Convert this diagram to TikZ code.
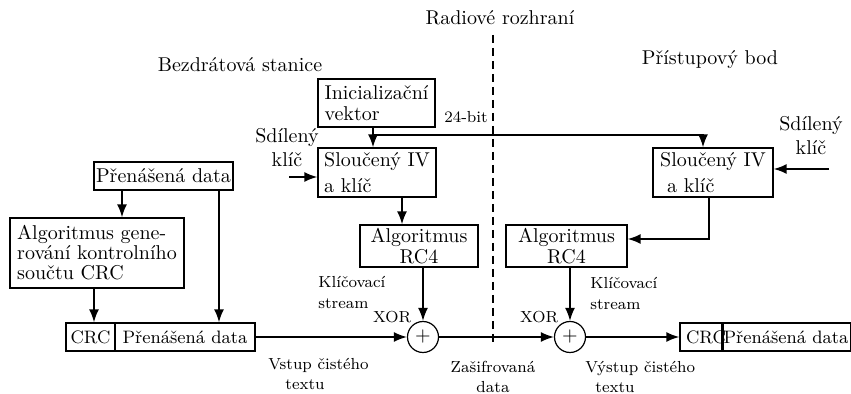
\documentclass[tikz,border=0pt]{standalone}
\usepackage{fontspec}
\usetikzlibrary{arrows.meta}
\begin{document}
\begin{tikzpicture}[x=0.5pt,y=-0.5pt,
  box/.style={draw, line width=0.7pt, inner xsep=1pt, inner ysep=0pt, align=left, anchor=center},
  xorc/.style={draw, circle, line width=0.6pt, inner sep=0pt, minimum size=15.5pt},
  arr/.style={line width=0.8pt, -{Latex[length=6.5pt,width=5pt]}},
  ln/.style={line width=0.8pt},
  lbl/.style={font=\fontsize{8}{10}\selectfont, inner sep=0pt},
  txt/.style={inner sep=0pt},
  radio/.style={line width=0.6pt, dash pattern=on 4pt off 2.5pt}]
\useasboundingbox (0,0) rectangle (851,394);

% headings
\node[txt] (radio) at (500,18) {Radiové rozhraní};
\node[txt] (bs) at (240,65) {Bezdrátová stanice};
\node[txt] (ap) at (710,60) {Přístupový bod};

% radio interface
\coordinate (rtop) at (493,35);
\coordinate (rbot) at (493,345);
\draw[radio] (rtop) -- (rbot);

% boxes
\node[box, minimum width=58.5pt, minimum height=24pt, font=\fontsize{10}{10.5}\selectfont] (IV) at (376.5,103) {Inicializační\\vektor};
\node[box, minimum width=59pt, minimum height=24.5pt, font=\fontsize{10}{13}\selectfont] (SL) at (377,172.5) {Sloučený IV\\a klíč};
\node[box, minimum width=60pt, minimum height=24.5pt, font=\fontsize{10}{13}\selectfont] (SR) at (713,172.5) {Sloučený IV\\\hspace*{3.5pt}a klíč};
\node[box, align=center, minimum width=59pt, minimum height=21pt, font=\fontsize{10}{9}\selectfont] (RL) at (419,246) {Algoritmus\\RC4};
\node[box, align=center, minimum width=60.5pt, minimum height=21pt, font=\fontsize{10}{9}\selectfont] (RR) at (566.5,246) {Algoritmus\\RC4};
\node[box, align=center, minimum width=69.5pt, minimum height=14pt] (PD) at (163.5,176) {Přenášená data};
\node[box, minimum width=87pt, minimum height=35pt, font=\fontsize{10}{8}\selectfont] (CA) at (97,253) {Algoritmus gene-\\rování kontrolního\\[2pt]součtu CRC};
\node[box, align=center, minimum width=24.5pt, minimum height=14pt, font=\small] (LC) at (90.5,337) {CRC};
\node[box, align=center, minimum width=70pt, minimum height=14pt, font=\small] (LD) at (185,337) {Přenášená data};
\node[box, align=center, minimum width=21.5pt, minimum height=14pt, font=\small] (RC) at (701.5,337) {\makebox[0pt]{\hspace*{4.5pt}CRC}};
\node[box, align=center, minimum width=63pt, minimum height=14pt, font=\small] (RD) at (786,337) {Přenášená data};
\node[xorc] (XL) at (423,337) {$+$};
\node[xorc] (XR) at (570,337) {$+$};

% labels
\node[lbl] (bit) at (466,117) {24-bit};
\node[txt, align=center] (skL) at (287,148) {Sdílený\\klíč};
\node[txt, align=center] (skR) at (811,136) {Sdílený\\klíč};
\node[lbl, anchor=west, align=left, font=\fontsize{8}{10.5}\selectfont] (ksL) at (318,292) {Klíčovací\\stream};
\node[lbl, anchor=west, align=left, font=\fontsize{8}{10.5}\selectfont] (ksR) at (590,293) {Klíčovací\\stream};
\node[lbl] (xoL) at (392,317) {XOR};
\node[lbl] (xoR) at (539,317) {XOR};
\node[lbl, anchor=west, align=left] (vst) at (268,373.5) {Vstup čistého\\\hspace*{8.5pt}textu};
\node[lbl, align=center] (zas) at (493,377) {Zašifrovaná\\data};
\node[lbl, anchor=west, align=left] (vys) at (585,377) {Výstup čistého\\\hspace*{5pt}textu};

% helper coordinates
\coordinate (j) at (373,135);
\coordinate (jr) at (703,135);
\coordinate (skl) at (289,177);
\coordinate (skr) at (829,169);
\coordinate (c1) at (402,0);
\coordinate (c2) at (709,239);
\coordinate (c3) at (122,0);
\coordinate (c4) at (219,0);
\coordinate (c5) at (94,0);

% connectors
\draw[arr] (IV.south -| j) -- (SL.north -| j);
\draw[arr] (j) -- (jr) -- (SR.north -| jr);
\draw[arr] (skl) -- (SL.west |- skl);
\draw[arr] (skr) -- (SR.east |- skr);
\draw[arr] (SL.south -| c1) -- (RL.north -| c1);
\draw[arr] (SR.south -| c2) -- (c2) -- (RR.east |- c2);
\draw[arr] (RL.south -| XL) -- (XL.north);
\draw[arr] (RR.south -| XR) -- (XR.north);
\draw[arr] (PD.south -| c3) -- (CA.north -| c3);
\draw[arr] (PD.south -| c4) -- (LD.north -| c4);
\draw[arr] (CA.south -| c5) -- (LC.north -| c5);
\draw[arr] (LD.east) -- (XL.west);
\draw[arr] (XL.east) -- (XR.west);
\draw[arr] (XR.east) -- (RC.west);
\end{tikzpicture}
\end{document}
